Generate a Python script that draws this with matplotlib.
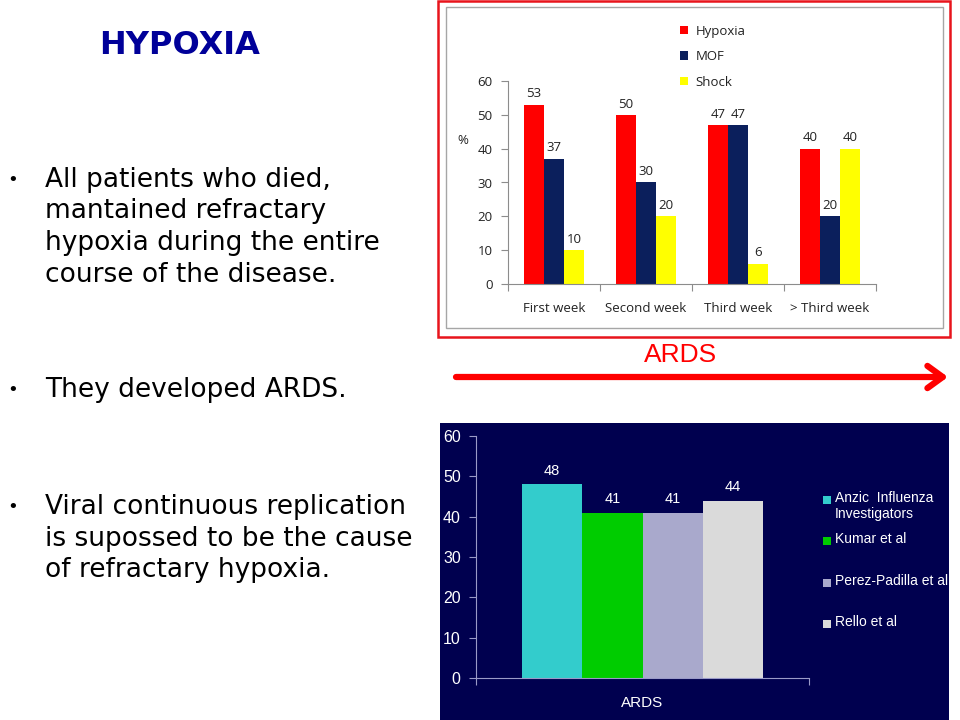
import matplotlib
matplotlib.use("Agg")
import matplotlib.pyplot as plt
from matplotlib.patches import Rectangle
import numpy as np

# top chart data
weeks = ["First week", "Second week", "Third week", "> Third week"]
hypoxia = [53, 50, 47, 40]
mof = [37, 30, 47, 20]
shock = [10, 20, 6, 40]

# bottom chart data
studies = ["Anzic  Influenza\nInvestigators", "Kumar et al", "Perez-Padilla et al", "Rello et al"]
ards = [48, 41, 41, 44]

bullets = [
    ["All patients who died,", "mantained refractary",
     "hypoxia during the entire", "course of the disease."],
    ["They developed ARDS."],
    ["Viral continuous replication", "is supossed to be the cause",
     "of refractary hypoxia."],
]

W, H = 960, 720
fig = plt.figure(figsize=(9.6, 7.2), dpi=100)
fig.patch.set_facecolor("white")


def fx(px):
    return px / W


def fy(py):
    return 1 - py / H


# overlay in pixel coords for slide decoration
over = fig.add_axes([0, 0, 1, 1], zorder=0)
over.set_xlim(0, W)
over.set_ylim(H, 0)
over.axis("off")

# --- left side text ---
over.text(180, 45, "HYPOXIA", color="#000099", fontsize=23, fontweight="bold",
          ha="center", va="center", family="DejaVu Sans")
line_y = [[180, 211.5, 243, 274.5], [390], [507, 538.5, 570]]
for lines, ys in zip(bullets, line_y):
    over.text(13, ys[0], "\u2022", fontsize=13, ha="center", va="center", color="black")
    for txt, y in zip(lines, ys):
        over.text(45, y, txt, fontsize=19, ha="left", va="center", color="black",
                  family="DejaVu Sans")

# --- top chart frames ---
over.add_patch(Rectangle((438, 1), 512, 336, fill=False, ec="#E8141C", lw=1.8))
over.add_patch(Rectangle((446, 7), 497, 321, fill=False, ec="#A6A6A6", lw=1.0))

# --- ARDS arrow ---
over.text(681, 355, "ARDS", color="#FF0000", fontsize=19, ha="center", va="center",
          family="Liberation Sans")
over.annotate("", xy=(948, 377), xytext=(456, 377),
              arrowprops=dict(arrowstyle="->,head_length=0.55,head_width=0.4",
                              color="#FF0000", lw=4.5, mutation_scale=20,
                              shrinkA=0, shrinkB=0, capstyle="round"))

# --- bottom chart background ---
over.add_patch(Rectangle((440, 423), 509, 297, fc="#00004F", ec="none"))

# --- top bar chart ---
ax1 = fig.add_axes([fx(508), fy(284), fx(368), 203 / H], zorder=2)
ax1.patch.set_alpha(0)
x = np.arange(len(weeks))
bw = 0.217
series = [(hypoxia, "Hypoxia", "#FF0000"), (mof, "MOF", "#0B1F5C"), (shock, "Shock", "#FFFF00")]
for i, (vals, name, col) in enumerate(series):
    bars = ax1.bar(x + (i - 1) * bw, vals, bw, color=col, label=name)
    for b, v in zip(bars, vals):
        ax1.text(b.get_x() + b.get_width() / 2, v + 3.2, str(v), ha="center",
                 va="center", fontsize=9.5, color="#222222", family="Open Sans")
ax1.set_xlim(-0.5, 3.5)
ax1.set_ylim(0, 60)
ax1.set_yticks(range(0, 61, 10))
ax1.set_xticks(np.arange(-0.5, 4, 1))
ax1.set_xticklabels([])
ax1.set_xticks(x, minor=True)
ax1.set_xticklabels(weeks, minor=True, fontsize=9.5, family="Open Sans", color="#222222")
ax1.tick_params(axis="x", which="minor", length=0, pad=13)
ax1.tick_params(axis="x", which="major", length=5, color="#8C8C8C", direction="out")
ax1.tick_params(axis="y", length=5, color="#8C8C8C", labelsize=9.5, labelcolor="#222222",
                pad=6)
for lab in ax1.get_yticklabels():
    lab.set_family("Open Sans")
for s in ["top", "right"]:
    ax1.spines[s].set_visible(False)
for s in ["left", "bottom"]:
    ax1.spines[s].set_color("#8C8C8C")
over.text(463, 140, "%", fontsize=9.5, ha="center", va="center", color="#222222",
          family="Open Sans")
leg = ax1.legend(loc="upper left", bbox_to_anchor=(fx(673), fy(18)),
                 bbox_transform=fig.transFigure, frameon=False, fontsize=9.5,
                 handlelength=0.65, handleheight=0.65, handletextpad=0.55,
                 labelspacing=0.95, borderpad=0)
for t in leg.get_texts():
    t.set_family("Open Sans")
    t.set_color("#222222")

# --- bottom bar chart ---
ax2 = fig.add_axes([fx(476), fy(678), fx(333), 242 / H], zorder=2)
ax2.patch.set_alpha(0)
bw2 = 0.181
cols2 = ["#33CCCC", "#00CC00", "#A9A9CC", "#DADADA"]
pos2 = (np.arange(len(ards)) - 1.5) * bw2
bars2 = ax2.bar(pos2, ards, bw2, color=cols2)
for b, v in zip(bars2, ards):
    ax2.text(b.get_x() + b.get_width() / 2, v + 3.3, str(v), ha="center", va="center",
             fontsize=10.5, color="white", family="Liberation Sans")
ax2.set_xlim(-0.5, 0.5)
ax2.set_ylim(0, 60)
ax2.set_yticks(range(0, 61, 10))
ax2.set_xticks([-0.5, 0.5])
ax2.set_xticklabels([])
ax2.set_xticks([0], minor=True)
ax2.set_xticklabels(["ARDS"], minor=True, fontsize=11, color="white",
                    family="Liberation Sans")
ax2.tick_params(axis="x", which="minor", length=0, pad=13)
ax2.tick_params(axis="x", which="major", length=5, color="#9A9AC8")
ax2.tick_params(axis="y", length=5, color="#9A9AC8", labelsize=11.5, labelcolor="white", pad=6)
for lab in ax2.get_yticklabels():
    lab.set_family("Liberation Sans")
for s in ["top", "right"]:
    ax2.spines[s].set_visible(False)
for s in ["left", "bottom"]:
    ax2.spines[s].set_color("#9A9AC8")

# legend for bottom chart placed by hand
leg_y = [500, 541, 583, 624]
for name, col, y in zip(studies, cols2, leg_y):
    over.add_patch(Rectangle((823, y - 4), 8, 8, fc=col, ec="none", zorder=3))
    over.text(835, y - 9, name, fontsize=10, color="white", ha="left", va="top",
              linespacing=1.2, family="Liberation Sans", zorder=3)

fig.savefig("out.png", dpi=100)
